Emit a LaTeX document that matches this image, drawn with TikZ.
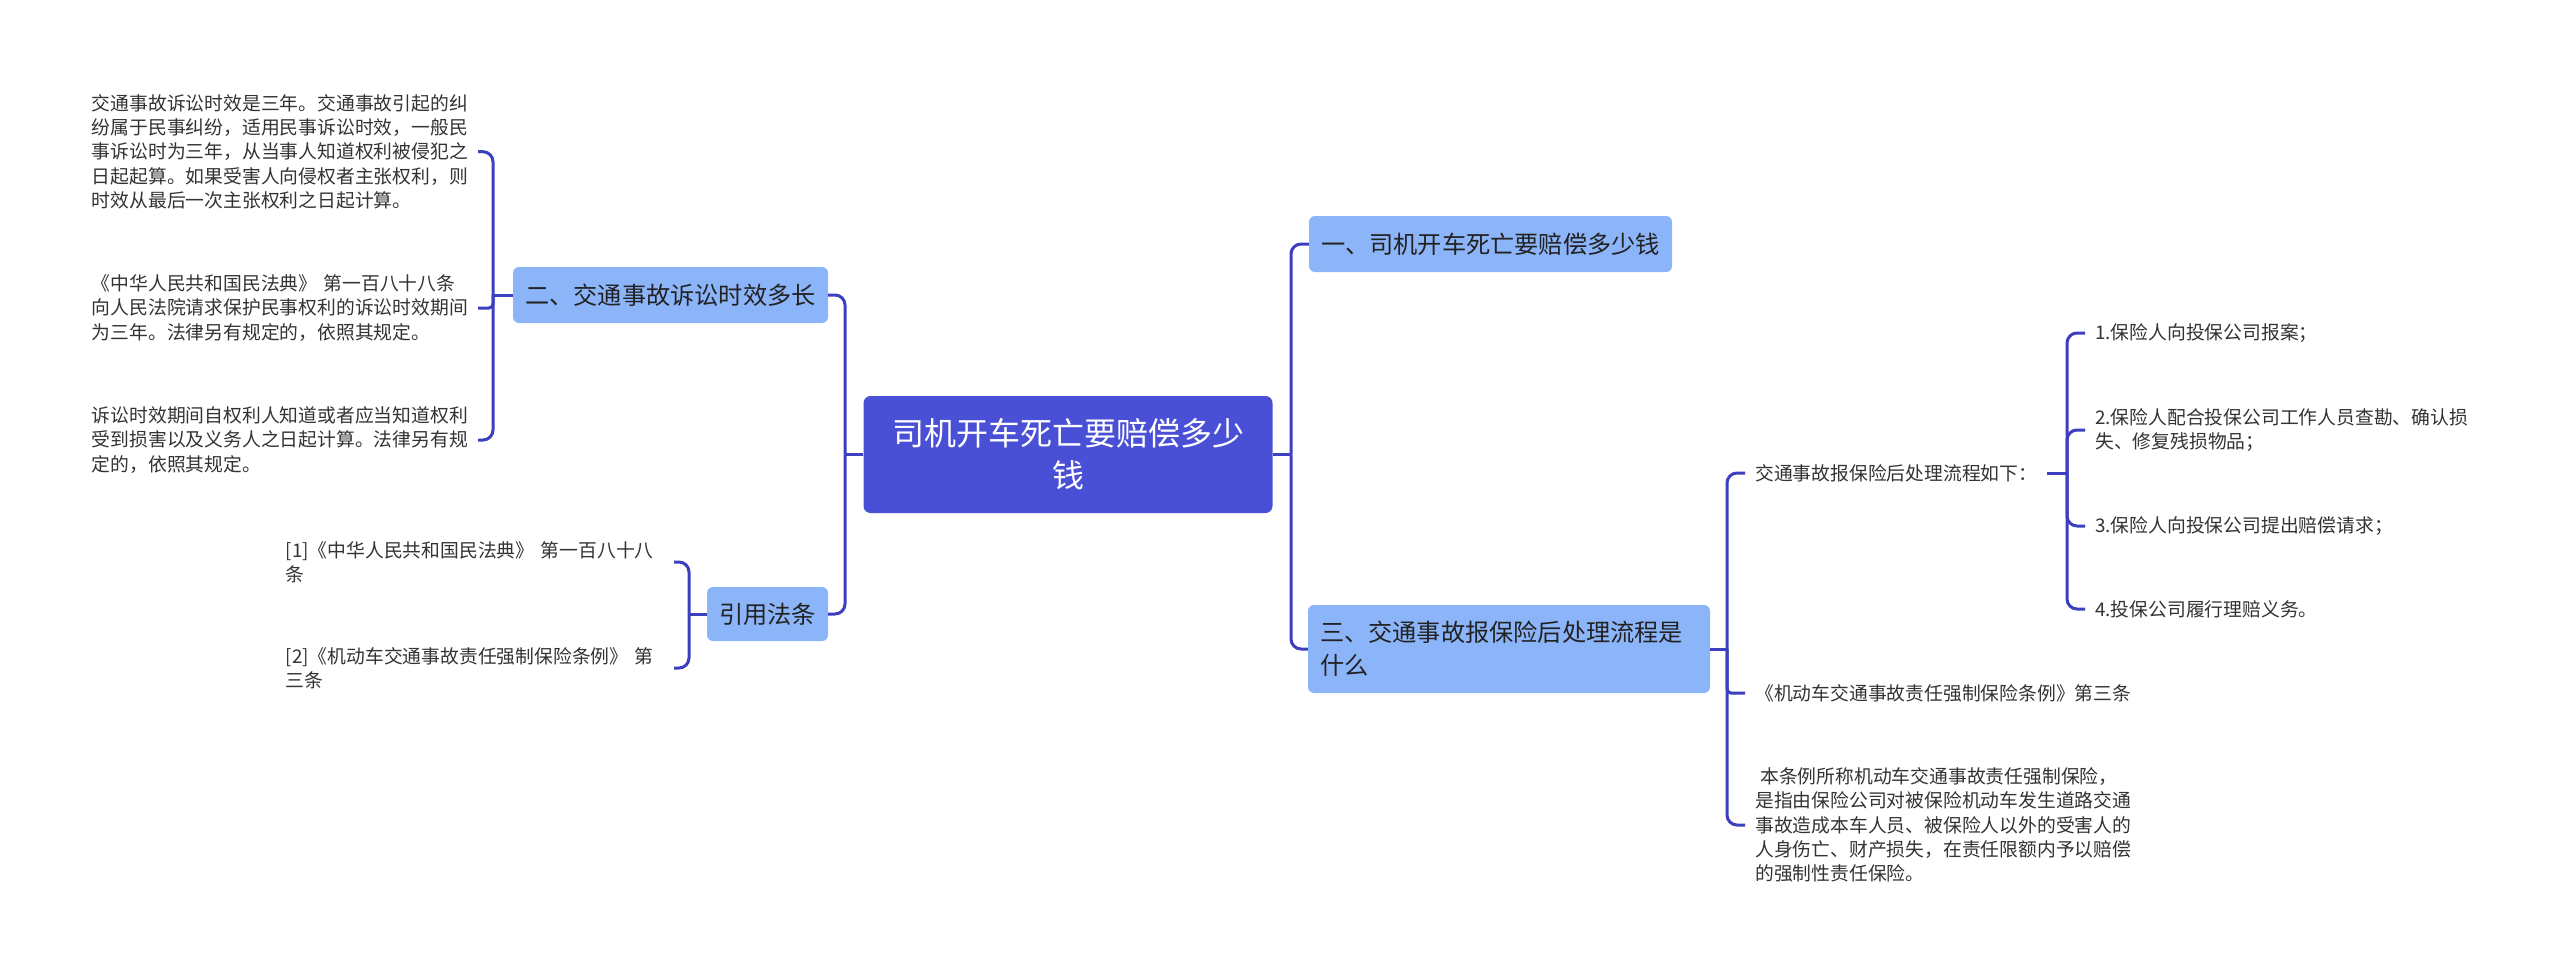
\documentclass[tikz,border=0pt]{standalone}
\usepackage{fontspec}
\setmainfont{Noto Sans CJK SC}
\usetikzlibrary{calc}
\definecolor{rootfill}{RGB}{74,80,214}
\definecolor{subfill}{RGB}{140,180,249}
\definecolor{conncolor}{RGB}{60,63,191}
\definecolor{textdark}{RGB}{34,34,34}
\definecolor{leaftext}{RGB}{51,51,51}
\tikzset{
  rootbox/.style={rectangle, rounded corners=7pt, fill=rootfill, text=white,
    font=\fontsize{32}{42}\selectfont, align=center, inner sep=0pt,
    minimum width=409pt, minimum height=117pt},
  subbox/.style={rectangle, rounded corners=6pt, fill=subfill, text=textdark,
    font=\fontsize{24.2}{33}\selectfont, inner sep=0pt, minimum height=56pt},
  leaf/.style={font=\fontsize{18.8}{24.2}\selectfont, text=leaftext, align=left,
    inner xsep=10pt, inner ysep=0pt},
  conn/.style={draw=conncolor, line width=3pt},
  rc/.style={rounded corners=10pt}
}
\begin{document}
\begin{tikzpicture}[x=1pt,y=-1pt]
\fill[white] (0,0) rectangle (2560,977);
\useasboundingbox (0,0) rectangle (2560,977);

% main nodes
\node[rootbox] (root) at (1068,454.5) {司机开车死亡要赔偿多少\\钱};
\node[subbox, minimum width=315pt] (n2) at (670.5,295) {二、交通事故诉讼时效多长};
\node[subbox, minimum width=121pt, minimum height=54pt] (n4) at (767.5,614) {引用法条};
\node[subbox, minimum width=363pt] (n1) at (1490.5,244) {一、司机开车死亡要赔偿多少钱};
\node[subbox, minimum width=402pt, minimum height=88pt, align=left, text width=378pt] (n3) at (1509,649) {三、交通事故报保险后处理流程是\\什么};

% left leaves of n2
\node[leaf, anchor=east, text width=376pt] (l1) at (478,151.7) {交通事故诉讼时效是三年。交通事故引起的纠\\纷属于民事纠纷，适用民事诉讼时效，一般民\\事诉讼时为三年，从当事人知道权利被侵犯之\\日起起算。如果受害人向侵权者主张权利，则\\时效从最后一次主张权利之日起计算。};
\node[leaf, anchor=east, text width=376pt] (l2) at (478,308) {《中华人民共和国民法典》 第一百八十八条\\向人民法院请求保护民事权利的诉讼时效期间\\为三年。法律另有规定的，依照其规定。};
\node[leaf, anchor=east, text width=376pt] (l3) at (478,440) {诉讼时效期间自权利人知道或者应当知道权利\\受到损害以及义务人之日起计算。法律另有规\\定的，依照其规定。};

% leaves of n4
\node[leaf, anchor=east, text width=378pt] (c1) at (674,562) {[1]《中华人民共和国民法典》 第一百八十八\\条};
\node[leaf, anchor=east, text width=378pt] (c2) at (674,668) {[2]《机动车交通事故责任强制保险条例》 第\\三条};

% leaves of n3
\node[leaf, anchor=west] (s1) at (1745,473) {交通事故报保险后处理流程如下：};
\node[leaf, anchor=west] (s2) at (1745,693) {《机动车交通事故责任强制保险条例》第三条};
\node[leaf, anchor=west] (s3) at (1745,825) {\hspace*{5pt}本条例所称机动车交通事故责任强制保险，\\是指由保险公司对被保险机动车发生道路交通\\事故造成本车人员、被保险人以外的受害人的\\人身伤亡、财产损失，在责任限额内予以赔偿\\的强制性责任保险。};

% items of s1
\node[leaf, anchor=west] (i1) at (2085,333) {1.保险人向投保公司报案；};
\node[leaf, anchor=west] (i2) at (2085,430) {2.保险人配合投保公司工作人员查勘、确认损\\失、修复残损物品；};
\node[leaf, anchor=west] (i3) at (2085,526) {3.保险人向投保公司提出赔偿请求；};
\node[leaf, anchor=west] (i4) at (2085,609) {4.投保公司履行理赔义务。};

% junction coordinates
\coordinate (L) at (845,454.5);
\coordinate (R) at (1291,454.5);
\coordinate (B2) at (493,295);
\coordinate (B4) at (689,614);
\coordinate (B3) at (1727,649);
\coordinate (B5) at (2067,473);

% connectors
\draw[conn] (root.west) -- (L);
\draw[conn, rc] (L) |- (n2.east);
\draw[conn, rc] (L) |- (n4.east);
\draw[conn] (root.east) -- (R);
\draw[conn, rc] (R) |- (n1.west);
\draw[conn, rc] (R) |- (n3.west);

\draw[conn] (n2.west) -- (B2);
\draw[conn, rc] (B2) |- (l1.east);
\draw[conn, rounded corners=4pt] (B2) |- (l2.east);
\draw[conn, rc] (B2) |- (l3.east);

\draw[conn] (n4.west) -- (B4);
\draw[conn, rc] (B4) |- (c1.east);
\draw[conn, rc] (B4) |- (c2.east);

\draw[conn] (n3.east) -- (B3);
\draw[conn, rc] (B3) |- (s1.west);
\draw[conn, rounded corners=4pt] (B3) |- (s2.west);
\draw[conn, rc] (B3) |- (s3.west);

\draw[conn] (s1.east) -- (B5);
\draw[conn, rc] (B5) |- (i1.west);
\draw[conn, rc] (B5) |- (i2.west);
\draw[conn, rc] (B5) |- (i3.west);
\draw[conn, rc] (B5) |- (i4.west);
\end{tikzpicture}
\end{document}
